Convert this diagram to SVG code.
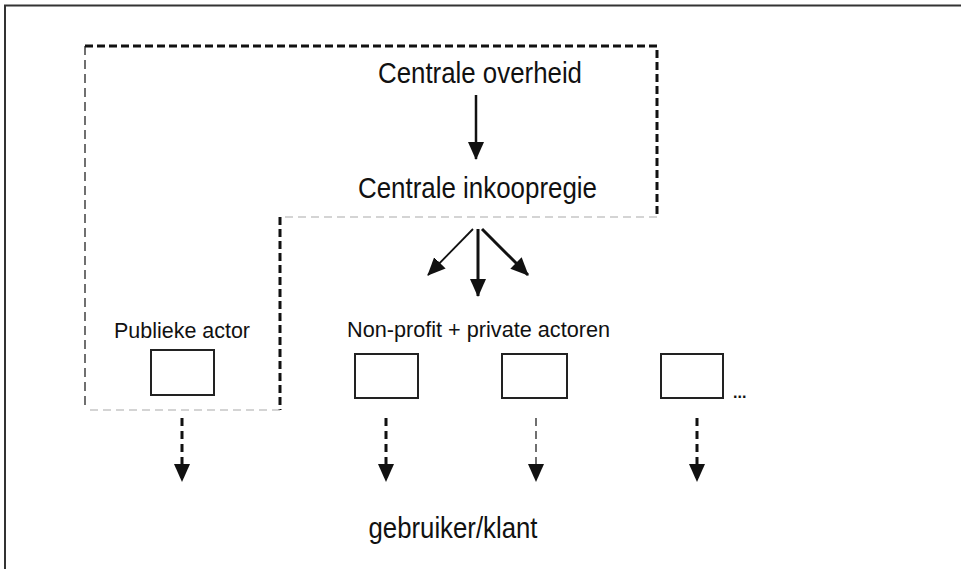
<svg xmlns="http://www.w3.org/2000/svg" width="961" height="569" viewBox="0 0 961 569">
<style>
text{font-family:"Liberation Sans",Arial,sans-serif;fill:#111}
.big{font-size:30px}
.mid{font-size:22px}
.box{fill:#fff;stroke:#222;stroke-width:2}
.thick{fill:none;stroke:#111;stroke-width:3;stroke-dasharray:8 4}
.thin{fill:none;stroke:#111;stroke-width:1.2;stroke-dasharray:9 5}
.grey{fill:none;stroke:#aaa;stroke-width:1.2;stroke-dasharray:8 5}
.arr{fill:none;stroke:#111}
</style>
<defs>
<marker id="ah" markerUnits="userSpaceOnUse" markerWidth="18" markerHeight="20" refX="17" refY="8" orient="auto" viewBox="0 0 18 16">
<path d="M0,0 L18,8 L0,16 Z" fill="#111"/>
</marker>
</defs>
<g id="frame">
<path d="M5,600 V5.5 H970" fill="none" stroke="#333" stroke-width="2"/>
</g>
<g id="boundary">
<path class="thick" d="M85,46 H657 V217"/>
<path class="thin" d="M85,46 V410"/>
<path class="grey" d="M657,217 H280"/>
<path class="thick" d="M280,217 V410"/>
<path class="grey" d="M280,410 H85"/>
</g>
<g id="centrale-overheid"><text class="big" x="480" y="83" text-anchor="middle" textLength="204" lengthAdjust="spacingAndGlyphs">Centrale overheid</text></g>
<g id="centrale-inkoopregie"><text class="big" x="477.5" y="198" text-anchor="middle" textLength="239" lengthAdjust="spacingAndGlyphs">Centrale inkoopregie</text></g>
<g id="publieke-actor">
<text class="mid" x="182" y="338" text-anchor="middle" textLength="136" lengthAdjust="spacingAndGlyphs">Publieke actor</text>
<rect class="box" x="151" y="350" width="63" height="45"/>
</g>
<g id="non-profit-label"><text class="mid" x="478.5" y="337" text-anchor="middle" textLength="263" lengthAdjust="spacingAndGlyphs">Non-profit + private actoren</text></g>
<g id="actor1"><rect class="box" x="355" y="354" width="63" height="44"/></g>
<g id="actor2"><rect class="box" x="502" y="354" width="65" height="44"/></g>
<g id="actor3"><rect class="box" x="661" y="354" width="62" height="44"/><text x="733" y="398" font-size="16" font-weight="bold">...</text></g>
<g id="gebruiker"><text class="big" x="453" y="538" text-anchor="middle" textLength="169" lengthAdjust="spacingAndGlyphs">gebruiker/klant</text></g>
<g id="connectors">
<line class="arr" x1="476" y1="95" x2="476" y2="159" stroke-width="2.5" marker-end="url(#ah)"/>
<line class="arr" x1="473" y1="229" x2="428" y2="275" stroke-width="1.8" marker-end="url(#ah)"/>
<line class="arr" x1="478" y1="229" x2="478" y2="296" stroke-width="3" marker-end="url(#ah)"/>
<line class="arr" x1="482" y1="229" x2="528" y2="275" stroke-width="3" marker-end="url(#ah)"/>
<line class="arr" x1="182" y1="418" x2="182" y2="481" stroke-width="3" stroke-dasharray="8 5" marker-end="url(#ah)"/>
<line class="arr" x1="386" y1="418" x2="386" y2="481" stroke-width="3" stroke-dasharray="8 5" marker-end="url(#ah)"/>
<line class="arr" x1="536" y1="418" x2="536" y2="481" stroke-width="1.2" stroke-dasharray="8 5" marker-end="url(#ah)"/>
<line class="arr" x1="697" y1="418" x2="697" y2="481" stroke-width="3" stroke-dasharray="8 5" marker-end="url(#ah)"/>
</g>
</svg>
